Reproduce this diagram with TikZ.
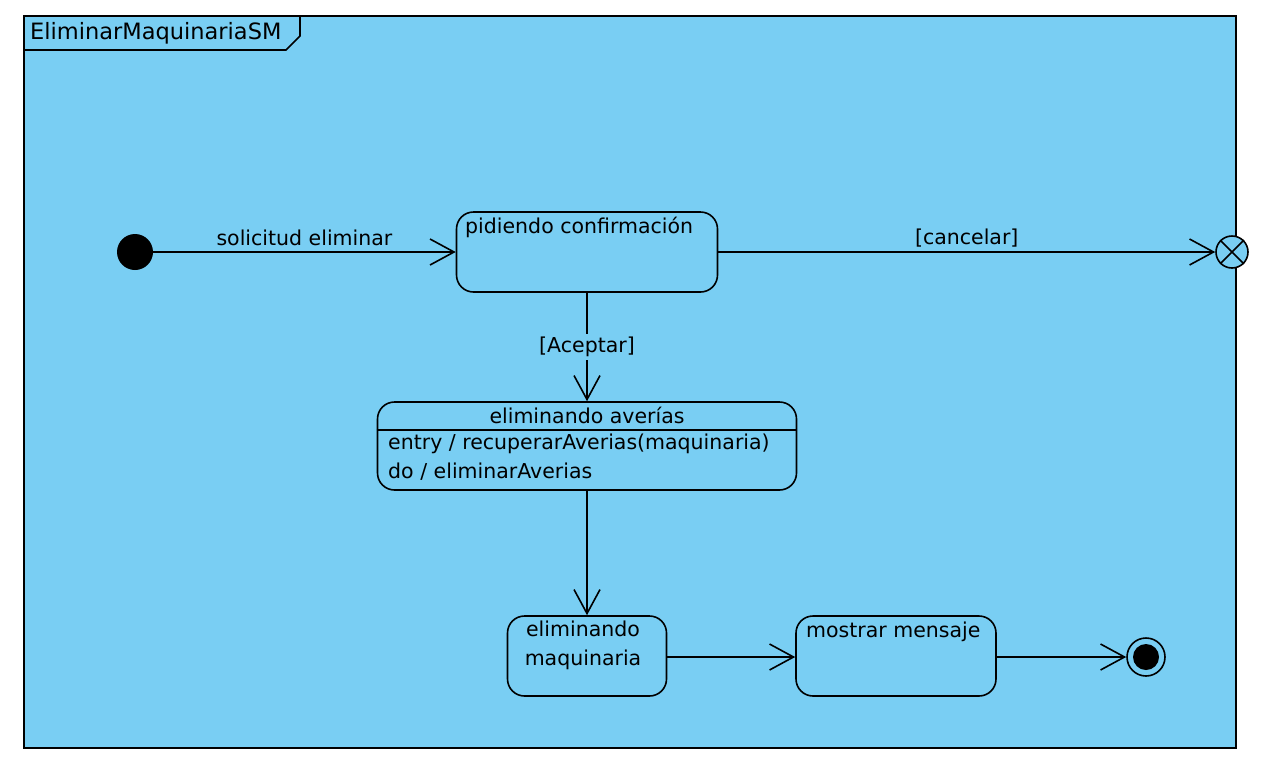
\documentclass[tikz,border=0pt]{standalone}
\usepackage{fontspec}
\setmainfont{DejaVu Sans}
\usepackage{tikz}
\usetikzlibrary{arrows.meta}
\definecolor{smblue}{RGB}{121,206,243}
\tikzset{
  state/.style={draw, line width=1.6pt, rounded corners=17pt, fill=smblue, inner sep=0pt},
  trans/.style={line width=1.6pt, -{Straight Barb[length=24pt,width=26pt,line width=1.6pt]}},
  txt/.style={inner sep=0pt, font=\fontsize{20.5}{24}\selectfont},
}

\begin{document}
\begin{tikzpicture}[x=1pt,y=-1pt]
      \useasboundingbox (0,0) rectangle (1268,766);
      \fill[white] (0,0) rectangle (1268,766);
      % frame
      \draw[fill=smblue, line width=1.6pt] (24,16) rectangle (1236,748);
      \draw[line width=1.6pt] (24,50) -- (286,50) -- (300,36) -- (300,16);
      \node[txt, anchor=west, font=\fontsize{22.5}{26}\selectfont] (title) at (30,33) {EliminarMaquinariaSM};
      % states
      \node[circle, fill=black, minimum size=36pt, inner sep=0pt] (init) at (135,252) {};
      \node[state, minimum width=261pt, minimum height=80pt] (pidiendo) at (587,252) {};
      \node[txt, anchor=west] (pidiendoTxt) at (465,227) {pidiendo confirmación};
      \node[state, minimum width=419pt, minimum height=88pt] (averias) at (587,446) {};
      \draw[line width=1.6pt] (averias.west |- 0,430) -- (averias.east |- 0,430);
      \node[txt] (averiasTxt) at (587,415) {eliminando averías};
      \node[txt, anchor=west] (entryTxt) at (388,444) {entry / recuperarAverias(maquinaria)};
      \node[txt, anchor=west] (doTxt) at (388,472) {do / eliminarAverias};
      \node[state, minimum width=159pt, minimum height=80pt] (maquinaria) at (587,656) {};
      \node[txt, align=center, font=\fontsize{20.5}{29}\selectfont] (maquinariaTxt) at (583,645) {eliminando\\maquinaria};
      \node[state, minimum width=200pt, minimum height=80pt] (mostrar) at (896,656) {};
      \node[txt, anchor=west] (mostrarTxt) at (806,632) {mostrar mensaje};
      \node[circle, draw, line width=1.6pt, minimum size=38pt, inner sep=0pt, fill=smblue] (final) at (1146,657) {};
      \node[circle, fill=black, minimum size=26pt, inner sep=0pt] (finalDot) at (final) {};
      \node[circle, draw, line width=1.6pt, minimum size=32pt, inner sep=0pt, fill=smblue] (term) at (1232,252) {};
      \draw[line width=1.6pt] (term.north east) -- (term.south west) (term.north west) -- (term.south east);
      % transitions
      \draw[trans] (init) -- node[txt, above=5pt] (solLbl) {solicitud eliminar} (pidiendo);
      \draw[trans] (pidiendo) -- node[txt, above=4pt] (cancelarLbl) {[cancelar]} (term);
      \draw[trans] (pidiendo.south) -- node[txt, fill=smblue, inner sep=3pt] (aceptarLbl) {[Aceptar]} (averias.north);
      \draw[trans] (averias.south) -- (maquinaria.north);
      \draw[trans] (maquinaria.east |- 0,657) -- (mostrar.west |- 0,657);
      \draw[trans] (mostrar.east |- 0,657) -- (final);
\end{tikzpicture}
\end{document}
